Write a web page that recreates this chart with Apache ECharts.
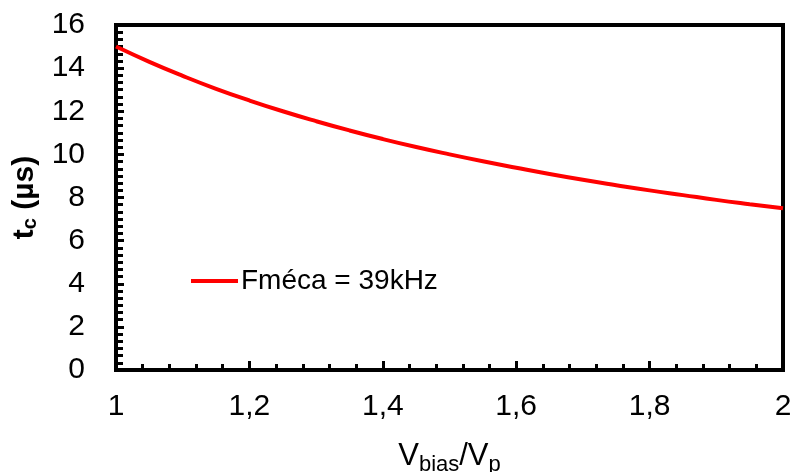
<!DOCTYPE html>
<html>
<head>
<meta charset="utf-8">
<script src="https://cdn.jsdelivr.net/npm/echarts@6/dist/echarts.min.js"></script>
<style>
html,body{margin:0;padding:0;background:#fff;}
#c{width:791px;height:472px;}
</style>
</head>
<body>
<div id="c"></div>
<script>
// Data
const xValues = [1.00,1.05,1.10,1.15,1.20,1.25,1.30,1.35,1.40,1.45,1.50,1.55,1.60,1.65,1.70,1.75,1.80,1.85,1.90,1.95,2.00];
const tcValues = [15.00,14.29,13.64,13.04,12.50,12.00,11.54,11.11,10.71,10.34,10.00,9.68,9.38,9.09,8.82,8.57,8.33,8.11,7.89,7.69,7.50];
const seriesName = 'Fméca = 39kHz';
const xTicks = [1,1.2,1.4,1.6,1.8,2];
const yTicks = [0,2,4,6,8,10,12,14,16];

const FONT = 'Liberation Sans, Arial, sans-serif';
const chart = echarts.init(document.getElementById('c'), null, {renderer:'canvas'});
const data = xValues.map((x,i)=>[x, tcValues[i]]);

chart.setOption({
  animation:false,
  backgroundColor:'#fff',
  textStyle:{fontFamily:FONT},
  grid:{left:116, top:25, width:667, height:345, show:true, borderColor:'#000', borderWidth:4, containLabel:false, outerBoundsMode:'none'},
  legend:{
    left:186, top:262, itemWidth:47, itemHeight:14, itemGap:10,
    textStyle:{fontFamily:FONT, fontSize:28, color:'#000', padding:[0,0,0,-2]},
    data:[{name:seriesName, icon:'path://M0,0 L47,0 L47,4 L0,4 Z', itemStyle:{color:'#ff0000'}}]
  },
  xAxis:{
    type:'value', min:xTicks[0], max:xTicks[xTicks.length-1], interval:0.2,
    name:'V{sub|bias}/V{sub|p}', nameLocation:'middle', nameGap:66,
    nameTextStyle:{fontFamily:FONT, fontSize:31, color:'#000', rich:{sub:{fontFamily:FONT, fontSize:22, color:'#000', verticalAlign:'bottom', padding:[18,0,0,0]}}},
    axisLine:{show:true, lineStyle:{color:'#000', width:4}},
    axisTick:{show:true, inside:true, length:9, lineStyle:{color:'#000', width:3}},
    minorTick:{show:true, splitNumber:5, length:6, lineStyle:{color:'#000', width:3}},
    axisLabel:{fontFamily:FONT, fontSize:30, color:'#000', margin:22,
      formatter:v=>String(Math.round(v*10)/10).replace('.',',')},
    splitLine:{show:false}
  },
  yAxis:{
    type:'value', min:yTicks[0], max:yTicks[yTicks.length-1], interval:2,
    name:'t{sub|c} (µs)', nameLocation:'middle', nameGap:72, nameRotate:90,
    nameTextStyle:{fontFamily:FONT, fontSize:30, fontWeight:'bold', color:'#000', rich:{sub:{fontFamily:FONT, fontSize:20, fontWeight:'bold', color:'#000', padding:[12,0,0,0]}}},
    axisLine:{show:true, lineStyle:{color:'#000', width:4}},
    axisTick:{show:true, inside:true, length:8, lineStyle:{color:'#000', width:3}},
    minorTick:{show:true, splitNumber:6, length:7, lineStyle:{color:'#000', width:3}},
    axisLabel:{fontFamily:FONT, fontSize:30, color:'#000', margin:31},
    splitLine:{show:false}
  },
  series:[{
    name:seriesName, type:'line', data:data, symbol:'none', smooth:true,
    lineStyle:{color:'#ff0000', width:4}, itemStyle:{color:'#ff0000'}
  }]
});
</script>
</body>
</html>
